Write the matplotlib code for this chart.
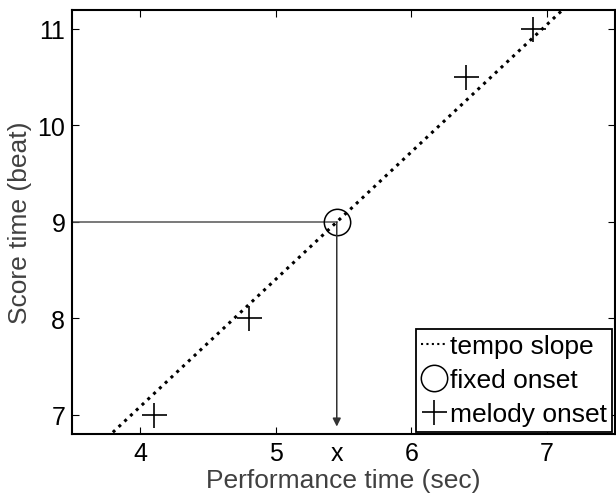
import numpy as np
import matplotlib
matplotlib.use("Agg")
import matplotlib.pyplot as plt
from matplotlib.lines import Line2D

# Data
melody_x = [4.1, 4.8, 6.4, 6.9]
melody_y = [7.0, 8.0, 10.5, 11.0]
fixed_x = 5.45
fixed_y = 9.0
tempo_slope = 1.32
x_ticks = [4, 5, 6, 7]
y_ticks = [7, 8, 9, 10, 11]

plt.rcParams['font.family'] = ['Liberation Sans', 'DejaVu Sans']

fig = plt.figure(figsize=(6.16, 5.02), dpi=100)
ax = fig.add_axes([0.1174, 0.1329, 0.8806, 0.8458])
ax.set_xlim(3.5, 7.5)
ax.set_ylim(6.8, 11.2)

# Tempo slope through the fixed onset
tx = np.array(ax.get_xlim())
ax.plot(tx, fixed_y + tempo_slope * (tx - fixed_x), color='black', linestyle=(0, (1, 1.6)), lw=2.2)

# Guide lines
ax.plot([3.5, fixed_x], [fixed_y, fixed_y], color='#555555', lw=1.1)
ax.annotate('', xy=(fixed_x, 6.88), xytext=(fixed_x, fixed_y),
            arrowprops=dict(arrowstyle='-|>', color='#333333', lw=1.1,
                            mutation_scale=12, shrinkA=0, shrinkB=0))

ax.plot(melody_x, melody_y, linestyle='none', marker='+', markersize=18,
        markeredgewidth=1.2, color='black')
ax.plot([fixed_x], [fixed_y], linestyle='none', marker='o', markersize=19,
        markerfacecolor='none', markeredgecolor='black', markeredgewidth=1.1)

tick_pad = 5
ax.set_xticks(x_ticks)
ax.set_yticks(y_ticks)
ax.tick_params(direction='in', length=5, width=0.8, top=True, right=True,
               labelsize=18, pad=tick_pad, colors='black')
for s in ax.spines.values():
    s.set_linewidth(1.5)

ax.annotate('x', xy=(fixed_x, 0), xycoords=('data', 'axes fraction'),
            xytext=(0, -tick_pad), textcoords='offset points',
            ha='center', va='top', fontsize=18)

ax.set_xlabel('Performance time (sec)', fontsize=19, color='#404040', labelpad=2)
ax.set_ylabel('Score time (beat)', fontsize=19, color='#404040', labelpad=4)

handles = [
    Line2D([], [], color='black', linestyle=(0, (1, 1.6)), lw=1.5),
    Line2D([], [], linestyle='none', marker='o', markersize=19,
           markerfacecolor='none', markeredgecolor='black', markeredgewidth=1.1),
    Line2D([], [], linestyle='none', marker='+', markersize=18,
           markeredgewidth=1.2, color='black'),
]
leg = ax.legend(handles, ['tempo slope', 'fixed onset', 'melody onset'],
                loc='lower right', fontsize=19, handlelength=1.0, handletextpad=0.1,
                borderpad=0.2, labelspacing=0.38, borderaxespad=0.1,
                fancybox=False, framealpha=1, edgecolor='black')
leg.get_frame().set_linewidth(1.3)

fig.savefig('out.png', dpi=100)
